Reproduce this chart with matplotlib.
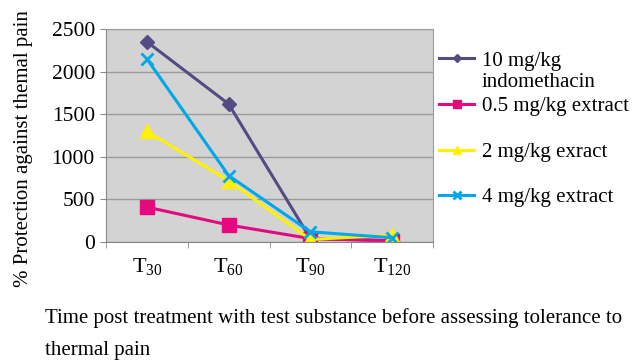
import matplotlib
matplotlib.use("Agg")
import matplotlib.pyplot as plt
import numpy as np

categories = ["T$_{30}$", "T$_{60}$", "T$_{90}$", "T$_{120}$"]
indomethacin_10 = [2350, 1620, 40, 15]
extract_05 = [410, 200, 40, 15]
extract_2 = [1300, 720, 30, 80]
extract_4 = [2150, 780, 120, 50]

series_labels = ["10 mg/kg", "0.5 mg/kg extract", "2 mg/kg exract", "4 mg/kg extract"]
label_extra = "indomethacin"
y_ticks = [0, 500, 1000, 1500, 2000, 2500]

plt.rcParams['font.family'] = ['Liberation Serif', 'DejaVu Serif']
plt.rcParams['mathtext.fontset'] = 'custom'
plt.rcParams['mathtext.rm'] = 'Liberation Serif'
plt.rcParams['mathtext.it'] = 'Liberation Serif'

fig = plt.figure(figsize=(6.4, 3.62), dpi=100)
ax = fig.add_axes([106/640, 1-242/362, (433-106)/640, (242-29)/362])
ax.set_facecolor('#D3D3D3')

x = np.arange(len(categories))
styles = [
    (indomethacin_10, '#554A83', 'D', 7),
    (extract_05, '#E5097F', 's', 10),
    (extract_2, '#FFF100', '^', 10),
    (extract_4, '#00A8E8', 'x', 9),
]
for (vals, col, mk, ms), lab in zip(styles, series_labels):
    ax.plot(x, vals, color=col, marker=mk, markersize=ms, lw=2.2, label=lab,
            markeredgewidth=2 if mk == 'x' else 1, markeredgecolor=col)

ax.set_xlim(-0.5, 3.5)
ax.set_ylim(0, 2500)
ax.set_yticks(y_ticks)
ax.set_yticklabels([str(t) for t in y_ticks], fontsize=15.5)
ax.yaxis.grid(True, color='#9A9A9A', lw=1)
ax.set_axisbelow(True)
ax.set_xticks(x)
ax.set_xticklabels(categories, fontsize=16)
ax.set_xticks(np.arange(-0.5, 4, 1), minor=True)
ax.tick_params(axis='x', which='major', length=0, pad=10)
ax.tick_params(axis='x', which='minor', length=4, color='#888888')
ax.tick_params(axis='y', length=4, color='#888888', pad=4)
for s in ['top', 'right']:
    ax.spines[s].set_color('#9A9A9A')
for s in ['left', 'bottom']:
    ax.spines[s].set_color('#888888')

ax.set_ylabel("% Protection against themal pain", fontsize=15)
ax.yaxis.set_label_coords(-(106-33)/327, (242-149)/213)

leg = fig.legend(loc='upper left', bbox_to_anchor=(439/640, 1-51/362), frameon=False,
                 fontsize=15, labelspacing=1.25, handlelength=1.7, handletextpad=0.35,
                 markerscale=0.6, borderpad=0, borderaxespad=0)

fig.canvas.draw()
bb = leg.get_texts()[0].get_window_extent()
inv = fig.transFigure.inverted()
x0, y0 = inv.transform((bb.x0, bb.y0))
fig.text(x0, y0 - 2/362, label_extra, fontsize=15, ha='left', va='top')

fig.text(45/640, 1-318/362, "Time post treatment with test substance before assessing tolerance to",
         fontsize=15, va='center', ha='left')
fig.text(45/640, 1-350/362, "thermal pain", fontsize=15, va='center', ha='left')

fig.savefig("out.png", dpi=100)
